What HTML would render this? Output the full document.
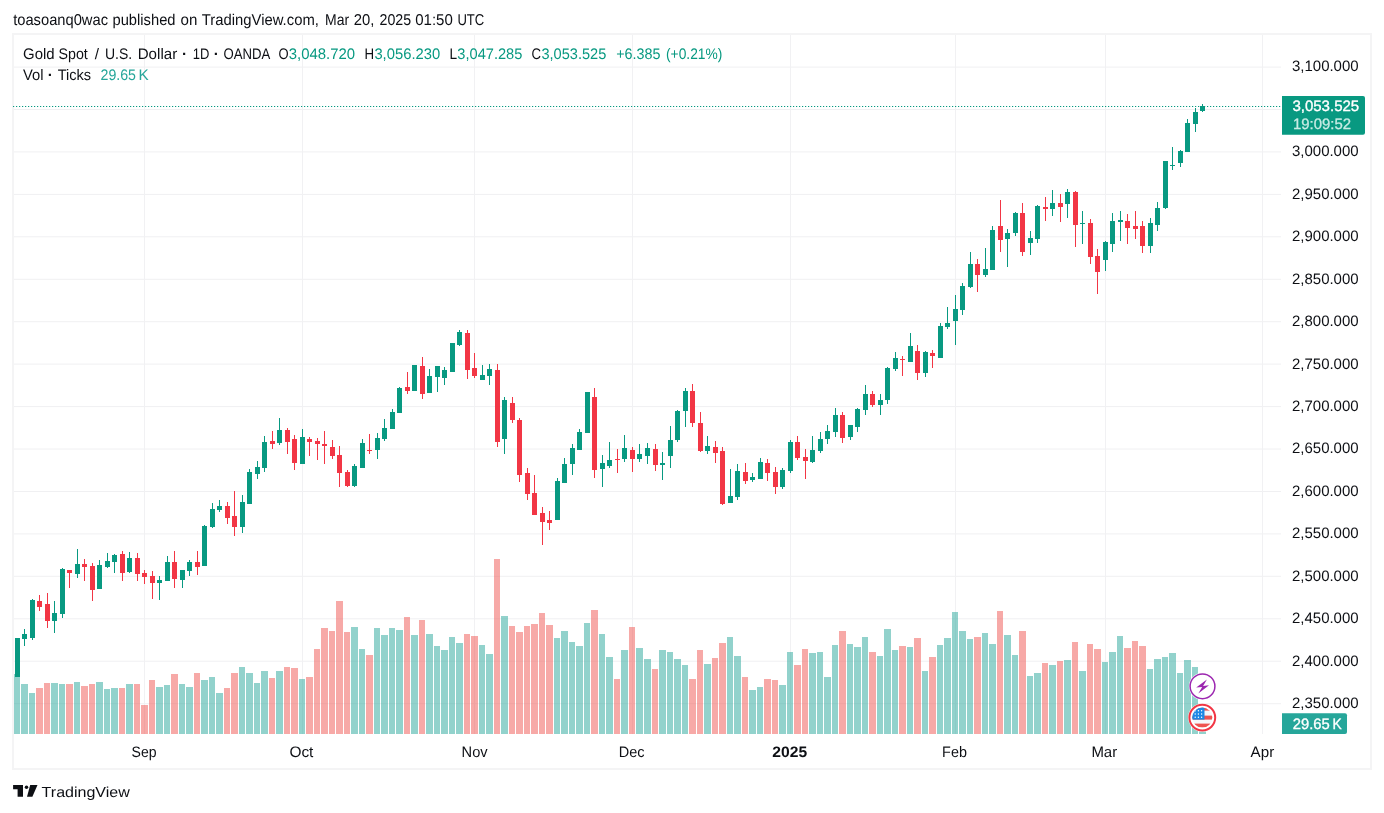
<!DOCTYPE html>
<html lang="en">
<head>
<meta charset="utf-8">
<title>Gold Spot / U.S. Dollar - TradingView</title>
<style>
html,body{margin:0;padding:0;background:#fff;}
body{width:1384px;height:813px;overflow:hidden;position:relative;font-family:"Liberation Sans",Arial,sans-serif;}
svg{position:absolute;left:0;top:0;display:block;}
svg text{font-family:"Liberation Sans",Arial,sans-serif;text-rendering:geometricPrecision;}
.crisp{shape-rendering:crispEdges;}
</style>
</head>
<body>
<svg width="1384" height="813" viewBox="0 0 1384 813">
<rect x="0" y="0" width="1384" height="813" fill="#ffffff"/>
<!-- frame -->
<rect x="13" y="34" width="1358" height="735" fill="#ffffff" stroke="#f4f4f5" stroke-width="2"/>
<!-- grid -->
<g stroke="#f0f0f2" stroke-width="1">
<line x1="14" y1="67.1" x2="1281" y2="67.1"/>
<line x1="14" y1="109.5" x2="1281" y2="109.5"/>
<line x1="14" y1="151.9" x2="1281" y2="151.9"/>
<line x1="14" y1="194.4" x2="1281" y2="194.4"/>
<line x1="14" y1="236.8" x2="1281" y2="236.8"/>
<line x1="14" y1="279.3" x2="1281" y2="279.3"/>
<line x1="14" y1="321.7" x2="1281" y2="321.7"/>
<line x1="14" y1="364.1" x2="1281" y2="364.1"/>
<line x1="14" y1="406.6" x2="1281" y2="406.6"/>
<line x1="14" y1="449.0" x2="1281" y2="449.0"/>
<line x1="14" y1="491.5" x2="1281" y2="491.5"/>
<line x1="14" y1="533.9" x2="1281" y2="533.9"/>
<line x1="14" y1="576.3" x2="1281" y2="576.3"/>
<line x1="14" y1="618.8" x2="1281" y2="618.8"/>
<line x1="14" y1="661.2" x2="1281" y2="661.2"/>
<line x1="14" y1="703.7" x2="1281" y2="703.7"/>
</g>
<g stroke="#f1f1f3" stroke-width="1" class="crisp">
<line x1="144.5" y1="35" x2="144.5" y2="734"/>
<line x1="302.5" y1="35" x2="302.5" y2="734"/>
<line x1="474.5" y1="35" x2="474.5" y2="734"/>
<line x1="632.5" y1="35" x2="632.5" y2="734"/>
<line x1="790.5" y1="35" x2="790.5" y2="734"/>
<line x1="955.5" y1="35" x2="955.5" y2="734"/>
<line x1="1105.5" y1="35" x2="1105.5" y2="734"/>
<line x1="1262.5" y1="35" x2="1262.5" y2="734"/>
</g>
<g class="crisp">
<rect x="14" y="674" width="6" height="60" fill="#26a69a" fill-opacity="0.5"/>
<rect x="21" y="684" width="7" height="50" fill="#26a69a" fill-opacity="0.5"/>
<rect x="29" y="693" width="6" height="41" fill="#26a69a" fill-opacity="0.5"/>
<rect x="36" y="688" width="7" height="46" fill="#ef5350" fill-opacity="0.5"/>
<rect x="44" y="683" width="6" height="51" fill="#ef5350" fill-opacity="0.5"/>
<rect x="51" y="683" width="7" height="51" fill="#26a69a" fill-opacity="0.5"/>
<rect x="59" y="684" width="6" height="50" fill="#26a69a" fill-opacity="0.5"/>
<rect x="66" y="684" width="7" height="50" fill="#ef5350" fill-opacity="0.5"/>
<rect x="74" y="682" width="6" height="52" fill="#26a69a" fill-opacity="0.5"/>
<rect x="81" y="686" width="7" height="48" fill="#ef5350" fill-opacity="0.5"/>
<rect x="89" y="684" width="6" height="50" fill="#ef5350" fill-opacity="0.5"/>
<rect x="96" y="682" width="7" height="52" fill="#26a69a" fill-opacity="0.5"/>
<rect x="104" y="689" width="6" height="45" fill="#26a69a" fill-opacity="0.5"/>
<rect x="111" y="688" width="7" height="46" fill="#26a69a" fill-opacity="0.5"/>
<rect x="119" y="688" width="6" height="46" fill="#ef5350" fill-opacity="0.5"/>
<rect x="126" y="684" width="7" height="50" fill="#26a69a" fill-opacity="0.5"/>
<rect x="134" y="684" width="6" height="50" fill="#ef5350" fill-opacity="0.5"/>
<rect x="141" y="705" width="7" height="29" fill="#ef5350" fill-opacity="0.5"/>
<rect x="149" y="680" width="6" height="54" fill="#ef5350" fill-opacity="0.5"/>
<rect x="156" y="687" width="7" height="47" fill="#26a69a" fill-opacity="0.5"/>
<rect x="164" y="685" width="6" height="49" fill="#26a69a" fill-opacity="0.5"/>
<rect x="171" y="674" width="7" height="60" fill="#ef5350" fill-opacity="0.5"/>
<rect x="179" y="684" width="6" height="50" fill="#26a69a" fill-opacity="0.5"/>
<rect x="186" y="687" width="7" height="47" fill="#26a69a" fill-opacity="0.5"/>
<rect x="194" y="673" width="6" height="61" fill="#ef5350" fill-opacity="0.5"/>
<rect x="201" y="680" width="7" height="54" fill="#26a69a" fill-opacity="0.5"/>
<rect x="209" y="677" width="6" height="57" fill="#26a69a" fill-opacity="0.5"/>
<rect x="216" y="693" width="7" height="41" fill="#26a69a" fill-opacity="0.5"/>
<rect x="224" y="688" width="6" height="46" fill="#ef5350" fill-opacity="0.5"/>
<rect x="231" y="673" width="7" height="61" fill="#ef5350" fill-opacity="0.5"/>
<rect x="239" y="667" width="6" height="67" fill="#26a69a" fill-opacity="0.5"/>
<rect x="246" y="673" width="7" height="61" fill="#26a69a" fill-opacity="0.5"/>
<rect x="254" y="683" width="6" height="51" fill="#26a69a" fill-opacity="0.5"/>
<rect x="261" y="671" width="7" height="63" fill="#26a69a" fill-opacity="0.5"/>
<rect x="269" y="678" width="6" height="56" fill="#ef5350" fill-opacity="0.5"/>
<rect x="276" y="671" width="7" height="63" fill="#26a69a" fill-opacity="0.5"/>
<rect x="284" y="667" width="6" height="67" fill="#ef5350" fill-opacity="0.5"/>
<rect x="291" y="668" width="7" height="66" fill="#ef5350" fill-opacity="0.5"/>
<rect x="299" y="679" width="6" height="55" fill="#26a69a" fill-opacity="0.5"/>
<rect x="306" y="677" width="7" height="57" fill="#ef5350" fill-opacity="0.5"/>
<rect x="314" y="649" width="6" height="85" fill="#ef5350" fill-opacity="0.5"/>
<rect x="321" y="628" width="7" height="106" fill="#ef5350" fill-opacity="0.5"/>
<rect x="329" y="631" width="6" height="103" fill="#ef5350" fill-opacity="0.5"/>
<rect x="336" y="601" width="7" height="133" fill="#ef5350" fill-opacity="0.5"/>
<rect x="344" y="632" width="6" height="102" fill="#ef5350" fill-opacity="0.5"/>
<rect x="351" y="627" width="7" height="107" fill="#26a69a" fill-opacity="0.5"/>
<rect x="359" y="649" width="6" height="85" fill="#26a69a" fill-opacity="0.5"/>
<rect x="366" y="655" width="7" height="79" fill="#ef5350" fill-opacity="0.5"/>
<rect x="374" y="628" width="6" height="106" fill="#26a69a" fill-opacity="0.5"/>
<rect x="381" y="635" width="7" height="99" fill="#26a69a" fill-opacity="0.5"/>
<rect x="389" y="628" width="6" height="106" fill="#26a69a" fill-opacity="0.5"/>
<rect x="396" y="630" width="7" height="104" fill="#26a69a" fill-opacity="0.5"/>
<rect x="404" y="617" width="6" height="117" fill="#ef5350" fill-opacity="0.5"/>
<rect x="411" y="635" width="7" height="99" fill="#26a69a" fill-opacity="0.5"/>
<rect x="419" y="620" width="6" height="114" fill="#ef5350" fill-opacity="0.5"/>
<rect x="426" y="634" width="7" height="100" fill="#26a69a" fill-opacity="0.5"/>
<rect x="434" y="646" width="6" height="88" fill="#26a69a" fill-opacity="0.5"/>
<rect x="441" y="650" width="7" height="84" fill="#26a69a" fill-opacity="0.5"/>
<rect x="449" y="637" width="6" height="97" fill="#26a69a" fill-opacity="0.5"/>
<rect x="456" y="643" width="7" height="91" fill="#26a69a" fill-opacity="0.5"/>
<rect x="464" y="634" width="6" height="100" fill="#ef5350" fill-opacity="0.5"/>
<rect x="471" y="636" width="7" height="98" fill="#ef5350" fill-opacity="0.5"/>
<rect x="479" y="645" width="6" height="89" fill="#26a69a" fill-opacity="0.5"/>
<rect x="486" y="654" width="7" height="80" fill="#26a69a" fill-opacity="0.5"/>
<rect x="494" y="559" width="6" height="175" fill="#ef5350" fill-opacity="0.5"/>
<rect x="501" y="616" width="7" height="118" fill="#26a69a" fill-opacity="0.5"/>
<rect x="509" y="626" width="6" height="108" fill="#ef5350" fill-opacity="0.5"/>
<rect x="516" y="632" width="7" height="102" fill="#ef5350" fill-opacity="0.5"/>
<rect x="524" y="626" width="6" height="108" fill="#ef5350" fill-opacity="0.5"/>
<rect x="531" y="624" width="7" height="110" fill="#ef5350" fill-opacity="0.5"/>
<rect x="539" y="613" width="6" height="121" fill="#ef5350" fill-opacity="0.5"/>
<rect x="546" y="625" width="7" height="109" fill="#ef5350" fill-opacity="0.5"/>
<rect x="554" y="638" width="6" height="96" fill="#26a69a" fill-opacity="0.5"/>
<rect x="561" y="631" width="7" height="103" fill="#26a69a" fill-opacity="0.5"/>
<rect x="569" y="642" width="6" height="92" fill="#26a69a" fill-opacity="0.5"/>
<rect x="576" y="646" width="7" height="88" fill="#26a69a" fill-opacity="0.5"/>
<rect x="584" y="623" width="6" height="111" fill="#26a69a" fill-opacity="0.5"/>
<rect x="591" y="610" width="7" height="124" fill="#ef5350" fill-opacity="0.5"/>
<rect x="599" y="634" width="6" height="100" fill="#26a69a" fill-opacity="0.5"/>
<rect x="606" y="657" width="7" height="77" fill="#26a69a" fill-opacity="0.5"/>
<rect x="614" y="679" width="6" height="55" fill="#ef5350" fill-opacity="0.5"/>
<rect x="621" y="650" width="7" height="84" fill="#26a69a" fill-opacity="0.5"/>
<rect x="629" y="627" width="6" height="107" fill="#ef5350" fill-opacity="0.5"/>
<rect x="636" y="648" width="7" height="86" fill="#26a69a" fill-opacity="0.5"/>
<rect x="644" y="659" width="7" height="75" fill="#26a69a" fill-opacity="0.5"/>
<rect x="652" y="669" width="6" height="65" fill="#ef5350" fill-opacity="0.5"/>
<rect x="659" y="650" width="7" height="84" fill="#26a69a" fill-opacity="0.5"/>
<rect x="667" y="652" width="6" height="82" fill="#26a69a" fill-opacity="0.5"/>
<rect x="674" y="659" width="7" height="75" fill="#26a69a" fill-opacity="0.5"/>
<rect x="682" y="665" width="6" height="69" fill="#26a69a" fill-opacity="0.5"/>
<rect x="689" y="679" width="7" height="55" fill="#ef5350" fill-opacity="0.5"/>
<rect x="697" y="650" width="6" height="84" fill="#ef5350" fill-opacity="0.5"/>
<rect x="704" y="664" width="7" height="70" fill="#26a69a" fill-opacity="0.5"/>
<rect x="712" y="658" width="6" height="76" fill="#ef5350" fill-opacity="0.5"/>
<rect x="719" y="643" width="7" height="91" fill="#ef5350" fill-opacity="0.5"/>
<rect x="727" y="637" width="6" height="97" fill="#26a69a" fill-opacity="0.5"/>
<rect x="734" y="656" width="7" height="78" fill="#26a69a" fill-opacity="0.5"/>
<rect x="742" y="677" width="6" height="57" fill="#ef5350" fill-opacity="0.5"/>
<rect x="749" y="690" width="7" height="44" fill="#26a69a" fill-opacity="0.5"/>
<rect x="757" y="687" width="6" height="47" fill="#26a69a" fill-opacity="0.5"/>
<rect x="764" y="679" width="7" height="55" fill="#ef5350" fill-opacity="0.5"/>
<rect x="772" y="680" width="6" height="54" fill="#ef5350" fill-opacity="0.5"/>
<rect x="779" y="685" width="7" height="49" fill="#26a69a" fill-opacity="0.5"/>
<rect x="787" y="652" width="6" height="82" fill="#26a69a" fill-opacity="0.5"/>
<rect x="794" y="665" width="7" height="69" fill="#ef5350" fill-opacity="0.5"/>
<rect x="802" y="649" width="6" height="85" fill="#ef5350" fill-opacity="0.5"/>
<rect x="809" y="653" width="7" height="81" fill="#26a69a" fill-opacity="0.5"/>
<rect x="817" y="652" width="6" height="82" fill="#26a69a" fill-opacity="0.5"/>
<rect x="824" y="677" width="7" height="57" fill="#26a69a" fill-opacity="0.5"/>
<rect x="832" y="645" width="6" height="89" fill="#26a69a" fill-opacity="0.5"/>
<rect x="839" y="631" width="7" height="103" fill="#ef5350" fill-opacity="0.5"/>
<rect x="847" y="644" width="6" height="90" fill="#26a69a" fill-opacity="0.5"/>
<rect x="854" y="647" width="7" height="87" fill="#26a69a" fill-opacity="0.5"/>
<rect x="862" y="637" width="6" height="97" fill="#26a69a" fill-opacity="0.5"/>
<rect x="869" y="652" width="7" height="82" fill="#ef5350" fill-opacity="0.5"/>
<rect x="877" y="656" width="6" height="78" fill="#26a69a" fill-opacity="0.5"/>
<rect x="884" y="629" width="7" height="105" fill="#26a69a" fill-opacity="0.5"/>
<rect x="892" y="650" width="6" height="84" fill="#26a69a" fill-opacity="0.5"/>
<rect x="899" y="646" width="7" height="88" fill="#ef5350" fill-opacity="0.5"/>
<rect x="907" y="647" width="6" height="87" fill="#26a69a" fill-opacity="0.5"/>
<rect x="914" y="638" width="7" height="96" fill="#ef5350" fill-opacity="0.5"/>
<rect x="922" y="671" width="6" height="63" fill="#26a69a" fill-opacity="0.5"/>
<rect x="929" y="657" width="7" height="77" fill="#ef5350" fill-opacity="0.5"/>
<rect x="937" y="645" width="6" height="89" fill="#26a69a" fill-opacity="0.5"/>
<rect x="944" y="638" width="7" height="96" fill="#26a69a" fill-opacity="0.5"/>
<rect x="952" y="612" width="6" height="122" fill="#26a69a" fill-opacity="0.5"/>
<rect x="959" y="631" width="7" height="103" fill="#26a69a" fill-opacity="0.5"/>
<rect x="967" y="639" width="6" height="95" fill="#26a69a" fill-opacity="0.5"/>
<rect x="974" y="637" width="7" height="97" fill="#ef5350" fill-opacity="0.5"/>
<rect x="982" y="633" width="6" height="101" fill="#26a69a" fill-opacity="0.5"/>
<rect x="989" y="644" width="7" height="90" fill="#26a69a" fill-opacity="0.5"/>
<rect x="997" y="611" width="6" height="123" fill="#ef5350" fill-opacity="0.5"/>
<rect x="1004" y="635" width="7" height="99" fill="#26a69a" fill-opacity="0.5"/>
<rect x="1012" y="655" width="6" height="79" fill="#26a69a" fill-opacity="0.5"/>
<rect x="1019" y="631" width="7" height="103" fill="#ef5350" fill-opacity="0.5"/>
<rect x="1027" y="676" width="6" height="58" fill="#26a69a" fill-opacity="0.5"/>
<rect x="1034" y="673" width="7" height="61" fill="#26a69a" fill-opacity="0.5"/>
<rect x="1042" y="663" width="6" height="71" fill="#ef5350" fill-opacity="0.5"/>
<rect x="1049" y="665" width="7" height="69" fill="#26a69a" fill-opacity="0.5"/>
<rect x="1057" y="661" width="6" height="73" fill="#ef5350" fill-opacity="0.5"/>
<rect x="1064" y="660" width="7" height="74" fill="#26a69a" fill-opacity="0.5"/>
<rect x="1072" y="642" width="6" height="92" fill="#ef5350" fill-opacity="0.5"/>
<rect x="1079" y="671" width="7" height="63" fill="#26a69a" fill-opacity="0.5"/>
<rect x="1087" y="644" width="6" height="90" fill="#ef5350" fill-opacity="0.5"/>
<rect x="1094" y="649" width="7" height="85" fill="#ef5350" fill-opacity="0.5"/>
<rect x="1102" y="662" width="6" height="72" fill="#26a69a" fill-opacity="0.5"/>
<rect x="1109" y="652" width="7" height="82" fill="#26a69a" fill-opacity="0.5"/>
<rect x="1117" y="636" width="6" height="98" fill="#26a69a" fill-opacity="0.5"/>
<rect x="1124" y="648" width="7" height="86" fill="#ef5350" fill-opacity="0.5"/>
<rect x="1132" y="641" width="6" height="93" fill="#ef5350" fill-opacity="0.5"/>
<rect x="1139" y="646" width="7" height="88" fill="#ef5350" fill-opacity="0.5"/>
<rect x="1147" y="669" width="6" height="65" fill="#26a69a" fill-opacity="0.5"/>
<rect x="1154" y="659" width="7" height="75" fill="#26a69a" fill-opacity="0.5"/>
<rect x="1162" y="657" width="6" height="77" fill="#26a69a" fill-opacity="0.5"/>
<rect x="1169" y="653" width="7" height="81" fill="#26a69a" fill-opacity="0.5"/>
<rect x="1177" y="673" width="6" height="61" fill="#26a69a" fill-opacity="0.5"/>
<rect x="1184" y="660" width="7" height="74" fill="#26a69a" fill-opacity="0.5"/>
<rect x="1192" y="667" width="6" height="67" fill="#26a69a" fill-opacity="0.5"/>
<rect x="1199" y="724" width="7" height="10" fill="#26a69a" fill-opacity="0.5"/>
<rect x="17" y="638" width="1" height="39" fill="#089981"/>
<rect x="15" y="638" width="5" height="39" fill="#089981"/>
<rect x="24" y="629" width="1" height="17" fill="#089981"/>
<rect x="22" y="634" width="5" height="5" fill="#089981"/>
<rect x="32" y="599" width="1" height="41" fill="#089981"/>
<rect x="30" y="600" width="5" height="38" fill="#089981"/>
<rect x="39" y="595" width="1" height="16" fill="#f23645"/>
<rect x="37" y="601" width="5" height="6" fill="#f23645"/>
<rect x="47" y="593" width="1" height="35" fill="#f23645"/>
<rect x="45" y="604" width="5" height="17" fill="#f23645"/>
<rect x="54" y="601" width="1" height="32" fill="#089981"/>
<rect x="52" y="613" width="5" height="8" fill="#089981"/>
<rect x="62" y="568" width="1" height="50" fill="#089981"/>
<rect x="60" y="569" width="5" height="45" fill="#089981"/>
<rect x="69" y="570" width="1" height="18" fill="#f23645"/>
<rect x="67" y="570" width="5" height="3" fill="#f23645"/>
<rect x="77" y="549" width="1" height="29" fill="#089981"/>
<rect x="75" y="564" width="5" height="10" fill="#089981"/>
<rect x="84" y="559" width="1" height="22" fill="#f23645"/>
<rect x="82" y="564" width="5" height="3" fill="#f23645"/>
<rect x="92" y="563" width="1" height="38" fill="#f23645"/>
<rect x="90" y="566" width="5" height="24" fill="#f23645"/>
<rect x="99" y="560" width="1" height="29" fill="#089981"/>
<rect x="97" y="565" width="5" height="24" fill="#089981"/>
<rect x="107" y="553" width="1" height="15" fill="#089981"/>
<rect x="105" y="561" width="5" height="6" fill="#089981"/>
<rect x="114" y="554" width="1" height="19" fill="#089981"/>
<rect x="112" y="555" width="5" height="7" fill="#089981"/>
<rect x="122" y="551" width="1" height="30" fill="#f23645"/>
<rect x="120" y="554" width="5" height="19" fill="#f23645"/>
<rect x="129" y="552" width="1" height="21" fill="#089981"/>
<rect x="127" y="558" width="5" height="14" fill="#089981"/>
<rect x="137" y="553" width="1" height="28" fill="#f23645"/>
<rect x="135" y="558" width="5" height="16" fill="#f23645"/>
<rect x="144" y="570" width="1" height="14" fill="#f23645"/>
<rect x="142" y="573" width="5" height="4" fill="#f23645"/>
<rect x="152" y="571" width="1" height="28" fill="#f23645"/>
<rect x="150" y="576" width="5" height="7" fill="#f23645"/>
<rect x="159" y="576" width="1" height="24" fill="#089981"/>
<rect x="157" y="580" width="5" height="3" fill="#089981"/>
<rect x="167" y="556" width="1" height="25" fill="#089981"/>
<rect x="165" y="562" width="5" height="19" fill="#089981"/>
<rect x="174" y="551" width="1" height="37" fill="#f23645"/>
<rect x="172" y="562" width="5" height="17" fill="#f23645"/>
<rect x="182" y="570" width="1" height="18" fill="#089981"/>
<rect x="180" y="570" width="5" height="10" fill="#089981"/>
<rect x="189" y="560" width="1" height="16" fill="#089981"/>
<rect x="187" y="562" width="5" height="9" fill="#089981"/>
<rect x="197" y="551" width="1" height="24" fill="#f23645"/>
<rect x="195" y="562" width="5" height="5" fill="#f23645"/>
<rect x="204" y="525" width="1" height="41" fill="#089981"/>
<rect x="202" y="526" width="5" height="40" fill="#089981"/>
<rect x="212" y="503" width="1" height="25" fill="#089981"/>
<rect x="210" y="509" width="5" height="18" fill="#089981"/>
<rect x="219" y="500" width="1" height="12" fill="#089981"/>
<rect x="217" y="506" width="5" height="4" fill="#089981"/>
<rect x="227" y="502" width="1" height="22" fill="#f23645"/>
<rect x="225" y="506" width="5" height="12" fill="#f23645"/>
<rect x="234" y="491" width="1" height="45" fill="#f23645"/>
<rect x="232" y="516" width="5" height="11" fill="#f23645"/>
<rect x="242" y="495" width="1" height="38" fill="#089981"/>
<rect x="240" y="502" width="5" height="25" fill="#089981"/>
<rect x="249" y="469" width="1" height="35" fill="#089981"/>
<rect x="247" y="472" width="5" height="32" fill="#089981"/>
<rect x="257" y="461" width="1" height="18" fill="#089981"/>
<rect x="255" y="467" width="5" height="7" fill="#089981"/>
<rect x="264" y="436" width="1" height="36" fill="#089981"/>
<rect x="262" y="442" width="5" height="26" fill="#089981"/>
<rect x="272" y="431" width="1" height="18" fill="#f23645"/>
<rect x="270" y="441" width="5" height="3" fill="#f23645"/>
<rect x="279" y="418" width="1" height="27" fill="#089981"/>
<rect x="277" y="430" width="5" height="13" fill="#089981"/>
<rect x="287" y="428" width="1" height="26" fill="#f23645"/>
<rect x="285" y="430" width="5" height="12" fill="#f23645"/>
<rect x="294" y="435" width="1" height="35" fill="#f23645"/>
<rect x="292" y="439" width="5" height="24" fill="#f23645"/>
<rect x="302" y="429" width="1" height="35" fill="#089981"/>
<rect x="300" y="437" width="5" height="27" fill="#089981"/>
<rect x="309" y="437" width="1" height="19" fill="#f23645"/>
<rect x="307" y="439" width="5" height="3" fill="#f23645"/>
<rect x="317" y="438" width="1" height="22" fill="#f23645"/>
<rect x="315" y="441" width="5" height="3" fill="#f23645"/>
<rect x="324" y="431" width="1" height="33" fill="#f23645"/>
<rect x="322" y="444" width="5" height="2" fill="#f23645"/>
<rect x="332" y="440" width="1" height="19" fill="#f23645"/>
<rect x="330" y="447" width="5" height="9" fill="#f23645"/>
<rect x="339" y="446" width="1" height="41" fill="#f23645"/>
<rect x="337" y="455" width="5" height="18" fill="#f23645"/>
<rect x="347" y="470" width="1" height="17" fill="#f23645"/>
<rect x="345" y="472" width="5" height="14" fill="#f23645"/>
<rect x="354" y="464" width="1" height="23" fill="#089981"/>
<rect x="352" y="466" width="5" height="20" fill="#089981"/>
<rect x="362" y="439" width="1" height="29" fill="#089981"/>
<rect x="360" y="443" width="5" height="25" fill="#089981"/>
<rect x="369" y="434" width="1" height="20" fill="#f23645"/>
<rect x="367" y="450" width="5" height="1" fill="#f23645"/>
<rect x="377" y="433" width="1" height="26" fill="#089981"/>
<rect x="375" y="438" width="5" height="12" fill="#089981"/>
<rect x="384" y="419" width="1" height="22" fill="#089981"/>
<rect x="382" y="428" width="5" height="11" fill="#089981"/>
<rect x="392" y="409" width="1" height="20" fill="#089981"/>
<rect x="390" y="412" width="5" height="17" fill="#089981"/>
<rect x="399" y="387" width="1" height="26" fill="#089981"/>
<rect x="397" y="388" width="5" height="25" fill="#089981"/>
<rect x="407" y="372" width="1" height="22" fill="#f23645"/>
<rect x="405" y="387" width="5" height="4" fill="#f23645"/>
<rect x="414" y="365" width="1" height="26" fill="#089981"/>
<rect x="412" y="365" width="5" height="26" fill="#089981"/>
<rect x="422" y="357" width="1" height="42" fill="#f23645"/>
<rect x="420" y="366" width="5" height="28" fill="#f23645"/>
<rect x="429" y="369" width="1" height="24" fill="#089981"/>
<rect x="427" y="376" width="5" height="17" fill="#089981"/>
<rect x="437" y="366" width="1" height="26" fill="#089981"/>
<rect x="435" y="366" width="5" height="11" fill="#089981"/>
<rect x="444" y="367" width="1" height="18" fill="#089981"/>
<rect x="442" y="370" width="5" height="8" fill="#089981"/>
<rect x="452" y="343" width="1" height="29" fill="#089981"/>
<rect x="450" y="343" width="5" height="29" fill="#089981"/>
<rect x="459" y="330" width="1" height="16" fill="#089981"/>
<rect x="457" y="332" width="5" height="13" fill="#089981"/>
<rect x="467" y="330" width="1" height="49" fill="#f23645"/>
<rect x="465" y="333" width="5" height="37" fill="#f23645"/>
<rect x="474" y="353" width="1" height="25" fill="#f23645"/>
<rect x="472" y="368" width="5" height="8" fill="#f23645"/>
<rect x="482" y="365" width="1" height="15" fill="#089981"/>
<rect x="480" y="375" width="5" height="5" fill="#089981"/>
<rect x="489" y="364" width="1" height="21" fill="#089981"/>
<rect x="487" y="369" width="5" height="7" fill="#089981"/>
<rect x="497" y="364" width="1" height="83" fill="#f23645"/>
<rect x="495" y="370" width="5" height="72" fill="#f23645"/>
<rect x="504" y="397" width="1" height="57" fill="#089981"/>
<rect x="502" y="400" width="5" height="39" fill="#089981"/>
<rect x="512" y="397" width="1" height="26" fill="#f23645"/>
<rect x="510" y="403" width="5" height="17" fill="#f23645"/>
<rect x="519" y="418" width="1" height="64" fill="#f23645"/>
<rect x="517" y="420" width="5" height="55" fill="#f23645"/>
<rect x="527" y="468" width="1" height="32" fill="#f23645"/>
<rect x="525" y="473" width="5" height="21" fill="#f23645"/>
<rect x="534" y="475" width="1" height="40" fill="#f23645"/>
<rect x="532" y="493" width="5" height="22" fill="#f23645"/>
<rect x="542" y="507" width="1" height="38" fill="#f23645"/>
<rect x="540" y="513" width="5" height="9" fill="#f23645"/>
<rect x="549" y="511" width="1" height="19" fill="#f23645"/>
<rect x="547" y="520" width="5" height="3" fill="#f23645"/>
<rect x="557" y="478" width="1" height="42" fill="#089981"/>
<rect x="555" y="481" width="5" height="39" fill="#089981"/>
<rect x="564" y="458" width="1" height="25" fill="#089981"/>
<rect x="562" y="464" width="5" height="19" fill="#089981"/>
<rect x="572" y="444" width="1" height="31" fill="#089981"/>
<rect x="570" y="448" width="5" height="16" fill="#089981"/>
<rect x="579" y="429" width="1" height="21" fill="#089981"/>
<rect x="577" y="432" width="5" height="18" fill="#089981"/>
<rect x="587" y="392" width="1" height="41" fill="#089981"/>
<rect x="585" y="392" width="5" height="41" fill="#089981"/>
<rect x="594" y="388" width="1" height="90" fill="#f23645"/>
<rect x="592" y="397" width="5" height="73" fill="#f23645"/>
<rect x="602" y="455" width="1" height="32" fill="#089981"/>
<rect x="600" y="463" width="5" height="6" fill="#089981"/>
<rect x="609" y="442" width="1" height="26" fill="#089981"/>
<rect x="607" y="460" width="5" height="6" fill="#089981"/>
<rect x="617" y="449" width="1" height="24" fill="#f23645"/>
<rect x="615" y="459" width="5" height="1" fill="#f23645"/>
<rect x="624" y="435" width="1" height="27" fill="#089981"/>
<rect x="622" y="448" width="5" height="11" fill="#089981"/>
<rect x="632" y="447" width="1" height="25" fill="#f23645"/>
<rect x="630" y="450" width="5" height="9" fill="#f23645"/>
<rect x="639" y="444" width="1" height="18" fill="#089981"/>
<rect x="637" y="454" width="5" height="5" fill="#089981"/>
<rect x="647" y="443" width="1" height="21" fill="#089981"/>
<rect x="645" y="448" width="5" height="8" fill="#089981"/>
<rect x="655" y="444" width="1" height="27" fill="#f23645"/>
<rect x="653" y="449" width="5" height="16" fill="#f23645"/>
<rect x="662" y="452" width="1" height="28" fill="#089981"/>
<rect x="660" y="463" width="5" height="2" fill="#089981"/>
<rect x="670" y="426" width="1" height="42" fill="#089981"/>
<rect x="668" y="440" width="5" height="16" fill="#089981"/>
<rect x="677" y="410" width="1" height="32" fill="#089981"/>
<rect x="675" y="411" width="5" height="29" fill="#089981"/>
<rect x="685" y="388" width="1" height="39" fill="#089981"/>
<rect x="683" y="391" width="5" height="20" fill="#089981"/>
<rect x="692" y="384" width="1" height="43" fill="#f23645"/>
<rect x="690" y="391" width="5" height="32" fill="#f23645"/>
<rect x="700" y="412" width="1" height="40" fill="#f23645"/>
<rect x="698" y="423" width="5" height="28" fill="#f23645"/>
<rect x="707" y="436" width="1" height="18" fill="#089981"/>
<rect x="705" y="446" width="5" height="5" fill="#089981"/>
<rect x="715" y="441" width="1" height="22" fill="#f23645"/>
<rect x="713" y="447" width="5" height="6" fill="#f23645"/>
<rect x="722" y="447" width="1" height="58" fill="#f23645"/>
<rect x="720" y="451" width="5" height="53" fill="#f23645"/>
<rect x="730" y="469" width="1" height="34" fill="#089981"/>
<rect x="728" y="496" width="5" height="7" fill="#089981"/>
<rect x="737" y="464" width="1" height="36" fill="#089981"/>
<rect x="735" y="471" width="5" height="26" fill="#089981"/>
<rect x="745" y="463" width="1" height="21" fill="#f23645"/>
<rect x="743" y="472" width="5" height="9" fill="#f23645"/>
<rect x="752" y="473" width="1" height="9" fill="#089981"/>
<rect x="750" y="477" width="5" height="3" fill="#089981"/>
<rect x="760" y="458" width="1" height="21" fill="#089981"/>
<rect x="758" y="462" width="5" height="17" fill="#089981"/>
<rect x="767" y="459" width="1" height="22" fill="#f23645"/>
<rect x="765" y="463" width="5" height="10" fill="#f23645"/>
<rect x="775" y="467" width="1" height="27" fill="#f23645"/>
<rect x="773" y="472" width="5" height="15" fill="#f23645"/>
<rect x="782" y="468" width="1" height="21" fill="#089981"/>
<rect x="780" y="470" width="5" height="17" fill="#089981"/>
<rect x="790" y="440" width="1" height="33" fill="#089981"/>
<rect x="788" y="442" width="5" height="29" fill="#089981"/>
<rect x="797" y="436" width="1" height="24" fill="#f23645"/>
<rect x="795" y="442" width="5" height="16" fill="#f23645"/>
<rect x="805" y="449" width="1" height="30" fill="#f23645"/>
<rect x="803" y="457" width="5" height="4" fill="#f23645"/>
<rect x="812" y="436" width="1" height="27" fill="#089981"/>
<rect x="810" y="450" width="5" height="12" fill="#089981"/>
<rect x="820" y="432" width="1" height="21" fill="#089981"/>
<rect x="818" y="439" width="5" height="12" fill="#089981"/>
<rect x="827" y="425" width="1" height="19" fill="#089981"/>
<rect x="825" y="431" width="5" height="8" fill="#089981"/>
<rect x="835" y="408" width="1" height="29" fill="#089981"/>
<rect x="833" y="415" width="5" height="17" fill="#089981"/>
<rect x="842" y="412" width="1" height="31" fill="#f23645"/>
<rect x="840" y="415" width="5" height="23" fill="#f23645"/>
<rect x="850" y="425" width="1" height="15" fill="#089981"/>
<rect x="848" y="425" width="5" height="12" fill="#089981"/>
<rect x="857" y="408" width="1" height="24" fill="#089981"/>
<rect x="855" y="409" width="5" height="18" fill="#089981"/>
<rect x="865" y="385" width="1" height="30" fill="#089981"/>
<rect x="863" y="394" width="5" height="16" fill="#089981"/>
<rect x="872" y="391" width="1" height="16" fill="#f23645"/>
<rect x="870" y="394" width="5" height="11" fill="#f23645"/>
<rect x="880" y="394" width="1" height="21" fill="#089981"/>
<rect x="878" y="400" width="5" height="5" fill="#089981"/>
<rect x="887" y="367" width="1" height="37" fill="#089981"/>
<rect x="885" y="368" width="5" height="32" fill="#089981"/>
<rect x="895" y="352" width="1" height="19" fill="#089981"/>
<rect x="893" y="358" width="5" height="11" fill="#089981"/>
<rect x="902" y="356" width="1" height="20" fill="#f23645"/>
<rect x="900" y="359" width="5" height="1" fill="#f23645"/>
<rect x="910" y="333" width="1" height="29" fill="#089981"/>
<rect x="908" y="346" width="5" height="16" fill="#089981"/>
<rect x="917" y="345" width="1" height="35" fill="#f23645"/>
<rect x="915" y="351" width="5" height="22" fill="#f23645"/>
<rect x="925" y="351" width="1" height="26" fill="#089981"/>
<rect x="923" y="352" width="5" height="21" fill="#089981"/>
<rect x="932" y="350" width="1" height="18" fill="#f23645"/>
<rect x="930" y="353" width="5" height="3" fill="#f23645"/>
<rect x="940" y="323" width="1" height="35" fill="#089981"/>
<rect x="938" y="326" width="5" height="32" fill="#089981"/>
<rect x="947" y="307" width="1" height="22" fill="#089981"/>
<rect x="945" y="323" width="5" height="4" fill="#089981"/>
<rect x="955" y="295" width="1" height="50" fill="#089981"/>
<rect x="953" y="309" width="5" height="12" fill="#089981"/>
<rect x="962" y="283" width="1" height="32" fill="#089981"/>
<rect x="960" y="286" width="5" height="24" fill="#089981"/>
<rect x="970" y="252" width="1" height="36" fill="#089981"/>
<rect x="968" y="264" width="5" height="23" fill="#089981"/>
<rect x="977" y="259" width="1" height="33" fill="#f23645"/>
<rect x="975" y="264" width="5" height="11" fill="#f23645"/>
<rect x="985" y="248" width="1" height="29" fill="#089981"/>
<rect x="983" y="269" width="5" height="6" fill="#089981"/>
<rect x="992" y="226" width="1" height="44" fill="#089981"/>
<rect x="990" y="230" width="5" height="40" fill="#089981"/>
<rect x="1000" y="200" width="1" height="52" fill="#f23645"/>
<rect x="998" y="226" width="5" height="14" fill="#f23645"/>
<rect x="1007" y="229" width="1" height="38" fill="#089981"/>
<rect x="1005" y="233" width="5" height="6" fill="#089981"/>
<rect x="1015" y="212" width="1" height="24" fill="#089981"/>
<rect x="1013" y="213" width="5" height="20" fill="#089981"/>
<rect x="1022" y="203" width="1" height="53" fill="#f23645"/>
<rect x="1020" y="213" width="5" height="39" fill="#f23645"/>
<rect x="1030" y="231" width="1" height="24" fill="#089981"/>
<rect x="1028" y="238" width="5" height="5" fill="#089981"/>
<rect x="1037" y="205" width="1" height="38" fill="#089981"/>
<rect x="1035" y="206" width="5" height="33" fill="#089981"/>
<rect x="1045" y="197" width="1" height="24" fill="#f23645"/>
<rect x="1043" y="207" width="5" height="2" fill="#f23645"/>
<rect x="1052" y="190" width="1" height="26" fill="#089981"/>
<rect x="1050" y="203" width="5" height="6" fill="#089981"/>
<rect x="1060" y="194" width="1" height="28" fill="#f23645"/>
<rect x="1058" y="203" width="5" height="4" fill="#f23645"/>
<rect x="1067" y="189" width="1" height="29" fill="#089981"/>
<rect x="1065" y="192" width="5" height="12" fill="#089981"/>
<rect x="1075" y="191" width="1" height="56" fill="#f23645"/>
<rect x="1073" y="192" width="5" height="33" fill="#f23645"/>
<rect x="1082" y="211" width="1" height="33" fill="#089981"/>
<rect x="1080" y="223" width="5" height="1" fill="#089981"/>
<rect x="1090" y="219" width="1" height="45" fill="#f23645"/>
<rect x="1088" y="223" width="5" height="34" fill="#f23645"/>
<rect x="1097" y="249" width="1" height="45" fill="#f23645"/>
<rect x="1095" y="256" width="5" height="16" fill="#f23645"/>
<rect x="1105" y="241" width="1" height="30" fill="#089981"/>
<rect x="1103" y="242" width="5" height="18" fill="#089981"/>
<rect x="1112" y="213" width="1" height="39" fill="#089981"/>
<rect x="1110" y="221" width="5" height="23" fill="#089981"/>
<rect x="1120" y="211" width="1" height="30" fill="#089981"/>
<rect x="1118" y="220" width="5" height="2" fill="#089981"/>
<rect x="1127" y="214" width="1" height="30" fill="#f23645"/>
<rect x="1125" y="221" width="5" height="7" fill="#f23645"/>
<rect x="1135" y="211" width="1" height="28" fill="#f23645"/>
<rect x="1133" y="226" width="5" height="3" fill="#f23645"/>
<rect x="1142" y="221" width="1" height="32" fill="#f23645"/>
<rect x="1140" y="226" width="5" height="20" fill="#f23645"/>
<rect x="1150" y="218" width="1" height="35" fill="#089981"/>
<rect x="1148" y="223" width="5" height="23" fill="#089981"/>
<rect x="1157" y="202" width="1" height="29" fill="#089981"/>
<rect x="1155" y="208" width="5" height="17" fill="#089981"/>
<rect x="1165" y="161" width="1" height="48" fill="#089981"/>
<rect x="1163" y="161" width="5" height="47" fill="#089981"/>
<rect x="1172" y="147" width="1" height="23" fill="#089981"/>
<rect x="1170" y="165" width="5" height="1" fill="#089981"/>
<rect x="1180" y="150" width="1" height="17" fill="#089981"/>
<rect x="1178" y="151" width="5" height="12" fill="#089981"/>
<rect x="1187" y="119" width="1" height="33" fill="#089981"/>
<rect x="1185" y="123" width="5" height="29" fill="#089981"/>
<rect x="1195" y="108" width="1" height="24" fill="#089981"/>
<rect x="1193" y="112" width="5" height="12" fill="#089981"/>
<rect x="1202" y="104" width="1" height="8" fill="#089981"/>
<rect x="1200" y="106" width="5" height="5" fill="#089981"/>
</g>
<!-- last price dotted line -->
<line x1="13" y1="106.5" x2="1281" y2="106.5" stroke="#089981" stroke-width="1.2" stroke-dasharray="1.2 1.8"/>
<text x="13.2" y="25" font-size="15.7" fill="#0d0f14" textLength="94.8" lengthAdjust="spacingAndGlyphs">toasoanq0wac</text>
<text x="112.5" y="25" font-size="15.7" fill="#0d0f14" textLength="63.0" lengthAdjust="spacingAndGlyphs">published</text>
<text x="180.5" y="25" font-size="15.7" fill="#0d0f14" textLength="16.8" lengthAdjust="spacingAndGlyphs">on</text>
<text x="201.8" y="25" font-size="15.7" fill="#0d0f14" textLength="117.1" lengthAdjust="spacingAndGlyphs">TradingView.com,</text>
<text x="325.0" y="25" font-size="15.7" fill="#0d0f14" textLength="24.1" lengthAdjust="spacingAndGlyphs">Mar</text>
<text x="353.7" y="25" font-size="15.7" fill="#0d0f14" textLength="20.6" lengthAdjust="spacingAndGlyphs">20,</text>
<text x="379.5" y="25" font-size="15.7" fill="#0d0f14" textLength="31.6" lengthAdjust="spacingAndGlyphs">2025</text>
<text x="415.2" y="25" font-size="15.7" fill="#0d0f14" textLength="37.6" lengthAdjust="spacingAndGlyphs">01:50</text>
<text x="457.4" y="25" font-size="15.7" fill="#0d0f14" textLength="26.9" lengthAdjust="spacingAndGlyphs">UTC</text>
<text x="23.0" y="58.8" font-size="15.3" fill="#0d0f14" textLength="31.6" lengthAdjust="spacingAndGlyphs">Gold</text>
<text x="58.5" y="58.8" font-size="15.3" fill="#0d0f14" textLength="29.3" lengthAdjust="spacingAndGlyphs">Spot</text>
<text x="96.8" y="58.8" font-size="15.3" fill="#0d0f14" text-anchor="middle">/</text>
<text x="104.9" y="58.8" font-size="15.3" fill="#0d0f14" textLength="27.2" lengthAdjust="spacingAndGlyphs">U.S.</text>
<text x="137.7" y="58.8" font-size="15.3" fill="#0d0f14" textLength="39.5" lengthAdjust="spacingAndGlyphs">Dollar</text>
<text x="184.6" y="58.8" font-size="15.3" fill="#0d0f14" text-anchor="middle" font-weight="bold">·</text>
<text x="192.7" y="58.8" font-size="15.3" fill="#0d0f14" textLength="16.6" lengthAdjust="spacingAndGlyphs">1D</text>
<text x="216.3" y="58.8" font-size="15.3" fill="#0d0f14" text-anchor="middle" font-weight="bold">·</text>
<text x="223.4" y="58.8" font-size="15.3" fill="#0d0f14" textLength="46.8" lengthAdjust="spacingAndGlyphs">OANDA</text>
<text x="278.6" y="58.8" font-size="15.3" fill="#0d0f14" textLength="10.1" lengthAdjust="spacingAndGlyphs">O</text>
<text x="288.7" y="58.8" font-size="15.3" fill="#089981" textLength="66.4" lengthAdjust="spacingAndGlyphs">3,048.720</text>
<text x="364.4" y="58.8" font-size="15.3" fill="#0d0f14" textLength="9.6" lengthAdjust="spacingAndGlyphs">H</text>
<text x="374.4" y="58.8" font-size="15.3" fill="#089981" textLength="65.8" lengthAdjust="spacingAndGlyphs">3,056.230</text>
<text x="449.5" y="58.8" font-size="15.3" fill="#0d0f14" textLength="7.6" lengthAdjust="spacingAndGlyphs">L</text>
<text x="457.3" y="58.8" font-size="15.3" fill="#089981" textLength="65.1" lengthAdjust="spacingAndGlyphs">3,047.285</text>
<text x="531.6" y="58.8" font-size="15.3" fill="#0d0f14" textLength="9.5" lengthAdjust="spacingAndGlyphs">C</text>
<text x="541.4" y="58.8" font-size="15.3" fill="#089981" textLength="64.9" lengthAdjust="spacingAndGlyphs">3,053.525</text>
<text x="616.2" y="58.8" font-size="15.3" fill="#089981" textLength="44.3" lengthAdjust="spacingAndGlyphs">+6.385</text>
<text x="666.0" y="58.8" font-size="15.3" fill="#089981" textLength="56.3" lengthAdjust="spacingAndGlyphs">(+0.21%)</text>
<text x="23.0" y="79.8" font-size="15.3" fill="#0d0f14" textLength="20.5" lengthAdjust="spacingAndGlyphs">Vol</text>
<text x="50.4" y="79.8" font-size="15.3" fill="#0d0f14" text-anchor="middle" font-weight="bold">·</text>
<text x="57.7" y="79.8" font-size="15.3" fill="#0d0f14" textLength="33.4" lengthAdjust="spacingAndGlyphs">Ticks</text>
<text x="100.5" y="79.8" font-size="15.3" fill="#26a69a" textLength="35.5" lengthAdjust="spacingAndGlyphs">29.65</text>
<text x="138.5" y="79.8" font-size="15.3" fill="#26a69a" textLength="10.2" lengthAdjust="spacingAndGlyphs">K</text>
<!-- price axis -->
<g font-size="15.1" fill="#0d0f14">
<text x="1292" y="71.4" textLength="66.6" lengthAdjust="spacingAndGlyphs">3,100.000</text>
<text x="1292" y="113.8" textLength="66.6" lengthAdjust="spacingAndGlyphs">3,050.000</text>
<text x="1292" y="156.3" textLength="66.6" lengthAdjust="spacingAndGlyphs">3,000.000</text>
<text x="1292" y="198.7" textLength="66.6" lengthAdjust="spacingAndGlyphs">2,950.000</text>
<text x="1292" y="241.2" textLength="66.6" lengthAdjust="spacingAndGlyphs">2,900.000</text>
<text x="1292" y="283.6" textLength="66.6" lengthAdjust="spacingAndGlyphs">2,850.000</text>
<text x="1292" y="326.0" textLength="66.6" lengthAdjust="spacingAndGlyphs">2,800.000</text>
<text x="1292" y="368.5" textLength="66.6" lengthAdjust="spacingAndGlyphs">2,750.000</text>
<text x="1292" y="410.9" textLength="66.6" lengthAdjust="spacingAndGlyphs">2,700.000</text>
<text x="1292" y="453.4" textLength="66.6" lengthAdjust="spacingAndGlyphs">2,650.000</text>
<text x="1292" y="495.8" textLength="66.6" lengthAdjust="spacingAndGlyphs">2,600.000</text>
<text x="1292" y="538.2" textLength="66.6" lengthAdjust="spacingAndGlyphs">2,550.000</text>
<text x="1292" y="580.7" textLength="66.6" lengthAdjust="spacingAndGlyphs">2,500.000</text>
<text x="1292" y="623.1" textLength="66.6" lengthAdjust="spacingAndGlyphs">2,450.000</text>
<text x="1292" y="665.6" textLength="66.6" lengthAdjust="spacingAndGlyphs">2,400.000</text>
<text x="1292" y="708.0" textLength="66.6" lengthAdjust="spacingAndGlyphs">2,350.000</text>
</g>
<!-- price label -->
<path d="M1282 96 H1363 Q1365 96 1365 98 V132.8 Q1365 134.8 1363 134.8 H1282 Z" fill="#089981"/>
<text x="1292.4" y="111" font-size="15.1" fill="#ffffff" stroke="#ffffff" stroke-width="0.35" textLength="66.8" lengthAdjust="spacingAndGlyphs">3,053.525</text>
<text x="1293" y="129" font-size="15.1" fill="#c8ebe4" stroke="#c8ebe4" stroke-width="0.3" textLength="58" lengthAdjust="spacingAndGlyphs">19:09:52</text>
<!-- vol label -->
<path d="M1282 713.2 H1345 Q1347 713.2 1347 715.2 V732 Q1347 734 1345 734 H1282 Z" fill="#26a69a"/>
<text x="1292.7" y="729.2" font-size="15.1" fill="#ffffff" stroke="#ffffff" stroke-width="0.35" textLength="37" lengthAdjust="spacingAndGlyphs">29.65</text>
<text x="1332.6" y="729.2" font-size="15.1" fill="#ffffff" stroke="#ffffff" stroke-width="0.35" textLength="9.2" lengthAdjust="spacingAndGlyphs">K</text>
<!-- time axis -->
<g font-size="15.1" fill="#0d0f14">
<text x="131.6" y="756.7" textLength="25" lengthAdjust="spacingAndGlyphs">Sep</text>
<text x="289.4" y="756.7" textLength="24" lengthAdjust="spacingAndGlyphs">Oct</text>
<text x="461.6" y="756.7" textLength="26" lengthAdjust="spacingAndGlyphs">Nov</text>
<text x="618.8" y="756.7" textLength="25.8" lengthAdjust="spacingAndGlyphs">Dec</text>
<text x="772.3" y="756.7" font-weight="bold" textLength="34.8" lengthAdjust="spacingAndGlyphs">2025</text>
<text x="942.1" y="756.7" textLength="24.8" lengthAdjust="spacingAndGlyphs">Feb</text>
<text x="1091.4" y="756.7" textLength="25.8" lengthAdjust="spacingAndGlyphs">Mar</text>
<text x="1250.6" y="756.7" textLength="23.6" lengthAdjust="spacingAndGlyphs">Apr</text>
</g>
<!-- icons -->
<g>
<circle cx="1202.5" cy="686.3" r="13.6" fill="#ffffff"/>
<circle cx="1202.5" cy="686.3" r="12.4" fill="#ffffff" stroke="#9c27b0" stroke-width="1.5"/>
<path d="M1206.9 679.6 L1196.2 687.5 L1202.2 686.9 L1198.3 693.5 L1209 685.3 L1203.1 685.9 Z" fill="#9c27b0"/>
<circle cx="1202.3" cy="717.6" r="14.2" fill="#ffffff"/>
<circle cx="1202.3" cy="717.6" r="12.9" fill="#ffffff" stroke="#f23645" stroke-width="2"/>
<clipPath id="flagclip"><circle cx="1202.3" cy="717.6" r="10"/></clipPath>
<g clip-path="url(#flagclip)">
<rect x="1192" y="707" width="21" height="21" fill="#f5f7fa"/>
<rect x="1192" y="707.6" width="21" height="3" fill="#ef5350"/>
<rect x="1192" y="715.6" width="21" height="4" fill="#ef5350"/>
<rect x="1192" y="723.6" width="21" height="4" fill="#ef5350"/>
<rect x="1192" y="707" width="12.5" height="12.6" fill="#1e88e5"/>
<g fill="#ffffff">
<circle cx="1195.2" cy="710.8" r="0.7"/><circle cx="1198.4" cy="710.8" r="0.7"/><circle cx="1201.6" cy="710.8" r="0.7"/>
<circle cx="1195.2" cy="714" r="0.7"/><circle cx="1198.4" cy="714" r="0.7"/><circle cx="1201.6" cy="714" r="0.7"/>
<circle cx="1195.2" cy="717.2" r="0.7"/><circle cx="1198.4" cy="717.2" r="0.7"/><circle cx="1201.6" cy="717.2" r="0.7"/>
</g>
</g>
</g>
<!-- logo -->
<g fill="#0d0f14">
<path d="M13.1 785 H23 V796.8 H17.6 V789.2 H13.1 Z"/>
<circle cx="26.5" cy="787.2" r="1.75"/>
<path d="M30.2 785 H37.5 L32.4 796.8 H27 Z"/>
<text x="41.6" y="796.9" font-size="14.6" textLength="88.2" lengthAdjust="spacingAndGlyphs">TradingView</text>
</g>
</svg>
</body>
</html>
